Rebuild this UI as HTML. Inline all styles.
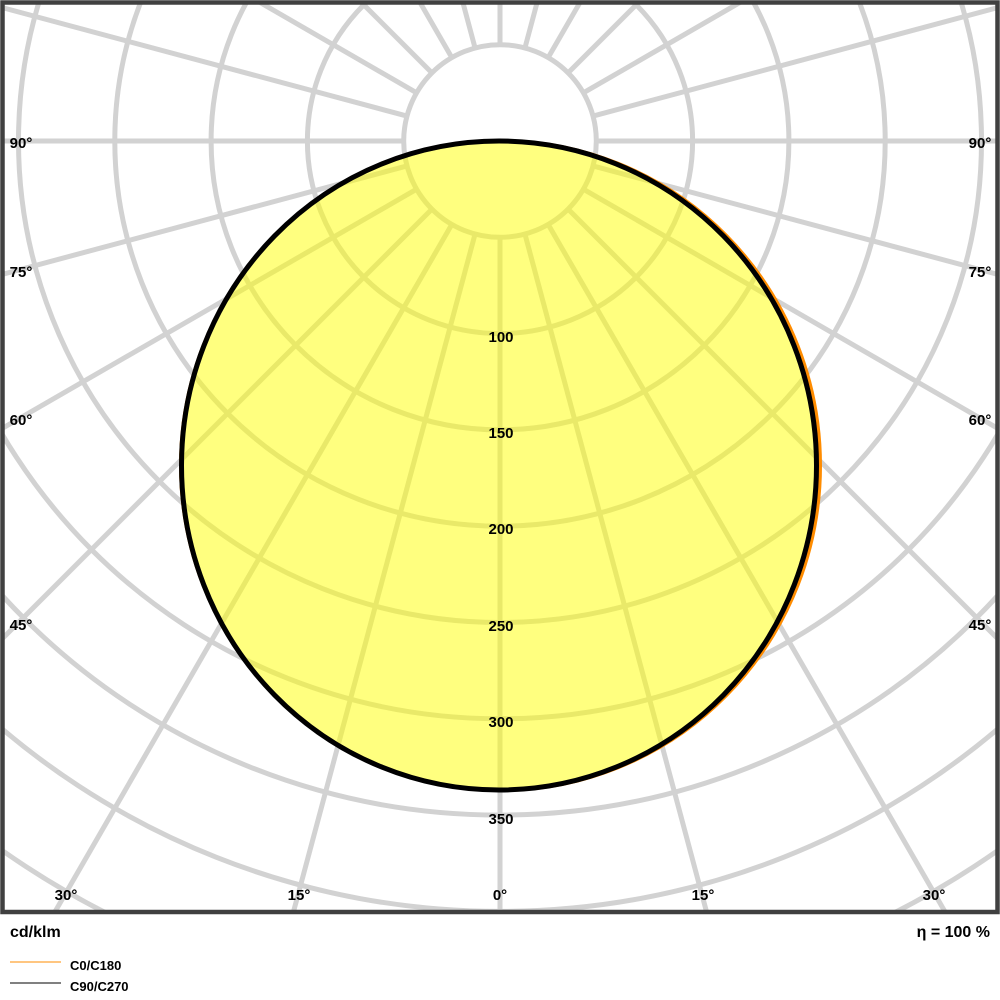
<!DOCTYPE html>
<html><head><meta charset="utf-8"><style>
html,body{margin:0;padding:0;background:#fff;width:1000px;height:1000px;overflow:hidden;}
svg{display:block;font-family:"Liberation Sans",Arial,sans-serif;}
</style></head><body>
<svg width="1000" height="1000" viewBox="0 0 1000 1000" xmlns="http://www.w3.org/2000/svg">
<defs><clipPath id="c"><rect x="4" y="4" width="992" height="907"/></clipPath></defs>
<g clip-path="url(#c)" stroke="#d2d2d2" stroke-width="5" fill="none">
<circle cx="500" cy="141" r="96.3"/>
<circle cx="500" cy="141" r="192.6"/>
<circle cx="500" cy="141" r="288.9"/>
<circle cx="500" cy="141" r="385.2"/>
<circle cx="500" cy="141" r="481.5"/>
<circle cx="500" cy="141" r="577.8"/>
<circle cx="500" cy="141" r="674.1"/>
<circle cx="500" cy="141" r="770.4"/>
<circle cx="500" cy="141" r="866.7"/>
<circle cx="500" cy="141" r="963"/>
<circle cx="500" cy="141" r="1059"/>
<line x1="500" y1="237.3" x2="500" y2="1400"/>
<line x1="500" y1="237.3" x2="500" y2="1400" transform="rotate(15 500 141)"/>
<line x1="500" y1="237.3" x2="500" y2="1400" transform="rotate(30 500 141)"/>
<line x1="500" y1="237.3" x2="500" y2="1400" transform="rotate(45 500 141)"/>
<line x1="500" y1="237.3" x2="500" y2="1400" transform="rotate(60 500 141)"/>
<line x1="500" y1="237.3" x2="500" y2="1400" transform="rotate(75 500 141)"/>
<line x1="500" y1="237.3" x2="500" y2="1400" transform="rotate(90 500 141)"/>
<line x1="500" y1="237.3" x2="500" y2="1400" transform="rotate(105 500 141)"/>
<line x1="500" y1="237.3" x2="500" y2="1400" transform="rotate(120 500 141)"/>
<line x1="500" y1="237.3" x2="500" y2="1400" transform="rotate(135 500 141)"/>
<line x1="500" y1="237.3" x2="500" y2="1400" transform="rotate(150 500 141)"/>
<line x1="500" y1="237.3" x2="500" y2="1400" transform="rotate(165 500 141)"/>
<line x1="500" y1="237.3" x2="500" y2="1400" transform="rotate(180 500 141)"/>
<line x1="500" y1="237.3" x2="500" y2="1400" transform="rotate(-15 500 141)"/>
<line x1="500" y1="237.3" x2="500" y2="1400" transform="rotate(-30 500 141)"/>
<line x1="500" y1="237.3" x2="500" y2="1400" transform="rotate(-45 500 141)"/>
<line x1="500" y1="237.3" x2="500" y2="1400" transform="rotate(-60 500 141)"/>
<line x1="500" y1="237.3" x2="500" y2="1400" transform="rotate(-75 500 141)"/>
<line x1="500" y1="237.3" x2="500" y2="1400" transform="rotate(-90 500 141)"/>
<line x1="500" y1="237.3" x2="500" y2="1400" transform="rotate(-105 500 141)"/>
<line x1="500" y1="237.3" x2="500" y2="1400" transform="rotate(-120 500 141)"/>
<line x1="500" y1="237.3" x2="500" y2="1400" transform="rotate(-135 500 141)"/>
<line x1="500" y1="237.3" x2="500" y2="1400" transform="rotate(-150 500 141)"/>
<line x1="500" y1="237.3" x2="500" y2="1400" transform="rotate(-165 500 141)"/>
</g>
<ellipse cx="500.5" cy="465.5" rx="319.5" ry="324.5" fill="#ffff00" fill-opacity="0.5" stroke="#ff8c00" stroke-width="4"/>
<ellipse cx="499" cy="465.5" rx="317.5" ry="324.5" fill="none" stroke="#000" stroke-width="5"/>
<rect x="2.5" y="2.5" width="995" height="909.5" fill="none" stroke="#404040" stroke-width="4.5"/>
<g font-size="15" font-weight="bold" fill="#000" text-anchor="middle">
<text x="501" y="342">100</text>
<text x="501" y="438">150</text>
<text x="501" y="534">200</text>
<text x="501" y="631">250</text>
<text x="501" y="727">300</text>
<text x="501" y="824">350</text>
<text x="21" y="148">90°</text>
<text x="980" y="148">90°</text>
<text x="21" y="277">75°</text>
<text x="980" y="277">75°</text>
<text x="21" y="425">60°</text>
<text x="980" y="425">60°</text>
<text x="21" y="630">45°</text>
<text x="980" y="630">45°</text>
<text x="66" y="900">30°</text>
<text x="934" y="900">30°</text>
<text x="299" y="900">15°</text>
<text x="703" y="900">15°</text>
<text x="500" y="900">0°</text>
</g>
<text x="10" y="937" font-size="16" font-weight="bold">cd/klm</text>
<text x="990" y="937" font-size="16" font-weight="bold" text-anchor="end">η = 100 %</text>
<line x1="10" y1="962" x2="61" y2="962" stroke="#ff8c00" stroke-width="1"/>
<line x1="10" y1="983" x2="61" y2="983" stroke="#000" stroke-width="1"/>
<text x="70" y="970" font-size="13" font-weight="bold">C0/C180</text>
<text x="70" y="991" font-size="13" font-weight="bold">C90/C270</text>
</svg>
</body></html>
